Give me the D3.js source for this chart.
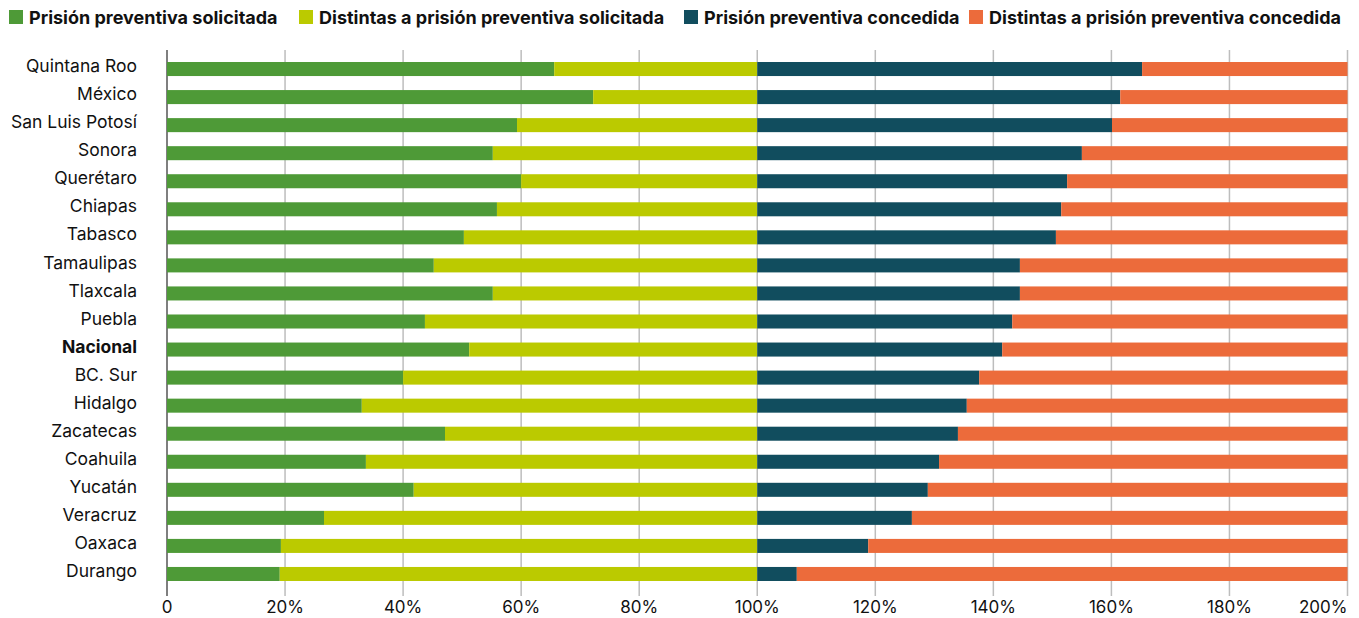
<!DOCTYPE html>
<html>
<head>
<meta charset="utf-8">
<script src="https://cdn.jsdelivr.net/npm/d3@7"></script>
<style>
  body { margin: 0; background: #fff; }
  svg { font-family: "Inter", "Lato", sans-serif; }
</style>
</head>
<body>
<svg id="chart" width="1359" height="618"></svg>
<script>
// values (%)
const states = ["Quintana Roo", "México", "San Luis Potosí", "Sonora", "Querétaro", "Chiapas",
  "Tabasco", "Tamaulipas", "Tlaxcala", "Puebla", "Nacional", "BC. Sur", "Hidalgo", "Zacatecas",
  "Coahuila", "Yucatán", "Veracruz", "Oaxaca", "Durango"];
const solicitada = [65.6, 72.2, 59.3, 55.2, 60.0, 55.9, 50.3, 45.2, 55.2, 43.7, 51.2, 40.0, 33.0, 47.1, 33.7, 41.8, 26.6, 19.3, 19.1];
const noSolicitada = [34.4, 27.8, 40.7, 44.8, 40.0, 44.1, 49.7, 54.8, 44.8, 56.3, 48.8, 60.0, 67.0, 52.9, 66.3, 58.2, 73.4, 80.7, 80.9];
const concedida = [65.2, 61.5, 60.1, 55.0, 52.5, 51.5, 50.6, 44.5, 44.5, 43.2, 41.5, 37.6, 35.5, 34.0, 30.8, 28.9, 26.2, 18.8, 6.7];
const noConcedida = [34.8, 38.5, 39.9, 45.0, 47.5, 48.5, 49.4, 55.5, 55.5, 56.8, 58.5, 62.4, 64.5, 66.0, 69.2, 71.1, 73.8, 81.2, 93.3];
const seriesNames = ["Prisión preventiva solicitada", "Distintas a prisión preventiva solicitada",
  "Prisión preventiva concedida", "Distintas a prisión preventiva concedida"];
const colors = ["#4e9a37", "#bbca00", "#114d5e", "#ec6b3b"];
const tickValues = [0, 20, 40, 60, 80, 100, 120, 140, 160, 180, 200];

const keys = ["s", "ns", "c", "nc"];
const rows = states.map((st, i) => ({
  state: st, s: solicitada[i], ns: noSolicitada[i], c: concedida[i], nc: noConcedida[i]
}));
const stacked = d3.stack().keys(keys)(rows);

const svg = d3.select("#chart");

const x = d3.scaleLinear().domain([0, 200]).range([167, 1347.5]);
const y = d3.scaleBand().domain(states).range([55, 588]).paddingInner(0.5).paddingOuter(0.25);
const color = d3.scaleOrdinal().domain(keys).range(colors);

// grid
svg.append("g")
  .selectAll("line")
  .data(tickValues)
  .join("line")
  .attr("x1", d => x(d)).attr("x2", d => x(d))
  .attr("y1", 50).attr("y2", 596)
  .attr("stroke", d => d === 0 ? "#555" : "#bdbdbd")
  .attr("stroke-width", 1.5);

// bars
svg.append("g")
  .selectAll("g")
  .data(stacked)
  .join("g")
  .attr("fill", d => color(d.key))
  .selectAll("rect")
  .data(d => d)
  .join("rect")
  .attr("x", d => x(d[0]))
  .attr("width", d => x(d[1]) - x(d[0]))
  .attr("y", d => y(d.data.state))
  .attr("height", y.bandwidth());

// state labels
svg.append("g")
  .selectAll("text")
  .data(states)
  .join("text")
  .attr("x", 137)
  .attr("y", d => y(d) + y.bandwidth() / 2 - 3)
  .attr("dy", "0.35em")
  .attr("text-anchor", "end")
  .attr("font-size", 17.5)
  .attr("font-weight", d => d === "Nacional" ? 700 : 400)
  .attr("fill", "#111")
  .text(d => d);

// x tick labels (last one sits flush with the right edge)
svg.append("g")
  .selectAll("text")
  .data(tickValues)
  .join("text")
  .attr("x", d => d === 200 ? x(d) : x(d))
  .attr("y", 613)
  .attr("text-anchor", d => d === 200 ? "end" : "middle")
  .attr("font-size", 17)
  .attr("fill", "#111")
  .text(d => d === 0 ? "0" : d + "%");

// legend
const legendX = [9, 299, 684, 969];
const legend = svg.append("g")
  .selectAll("g")
  .data(seriesNames)
  .join("g")
  .attr("transform", (d, i) => `translate(${legendX[i]},10)`);
legend.append("rect")
  .attr("width", 14).attr("height", 14)
  .attr("fill", (d, i) => colors[i]);
legend.append("text")
  .attr("x", 20)
  .attr("y", 13.5)
  .attr("font-size", 18)
  .attr("font-weight", 700)
  .attr("fill", "#111")
  .text(d => d);
</script>
</body>
</html>
